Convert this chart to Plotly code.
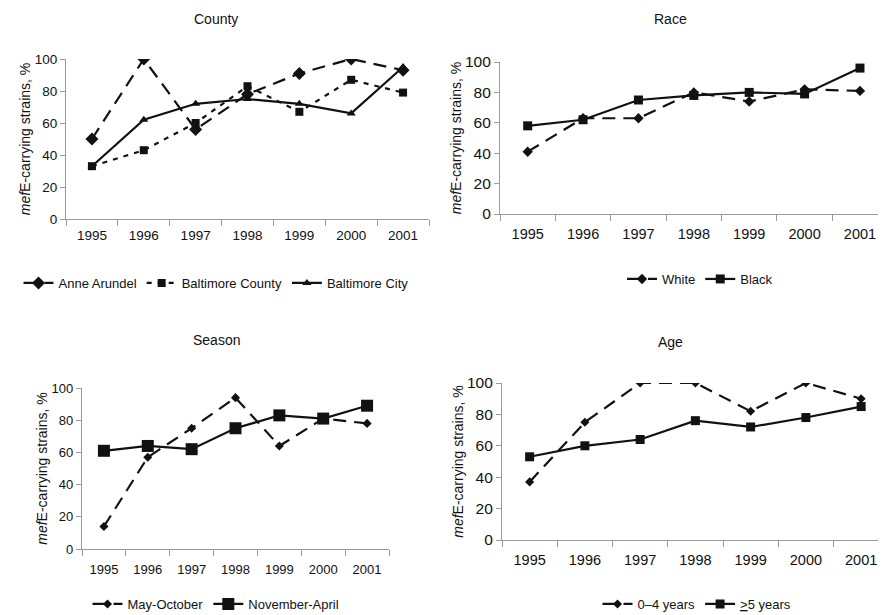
import plotly.graph_objects as go

years = [1995, 1996, 1997, 1998, 1999, 2000, 2001]

county_anne = [50, 100, 56, 78, 91, 100, 93]
county_balt_county = [33, 43, 60, 83, 67, 87, 79]
county_balt_city = [33, 62, 72, 75, 72, 66, 95]

race_white = [41, 63, 63, 80, 74, 82, 81]
race_black = [58, 62, 75, 78, 80, 79, 96]

season_may_oct = [14, 57, 75, 94, 64, 81, 78]
season_nov_apr = [61, 64, 62, 75, 83, 81, 89]

age_0_4 = [37, 75, 100, 100, 82, 100, 90]
age_5plus = [53, 60, 64, 76, 72, 78, 85]

OFF = 8  # page body margin
W, H = 886 - OFF, 615 - OFF
FONT = "Liberation Sans, Arial, sans-serif"
BLACK = "#111111"
AX = "#9a9a9a"

fig = go.Figure()

def add(x, y, name, xa, ya, legend, dash, symbol, msize):
    fig.add_trace(go.Scatter(
        x=x, y=y, name=name, xaxis=xa, yaxis=ya, legend=legend,
        mode="lines+markers",
        line=dict(color=BLACK, width=2.2, dash=dash),
        marker=dict(symbol=symbol, size=msize, color=BLACK),
    ))

add(years, county_anne, "Anne Arundel", "x", "y", "legend", "13px,8px", "diamond", 10)
add(years, county_balt_county, "Baltimore County", "x", "y", "legend", "5px,6px", "square", 8)
add(years, county_balt_city, "Baltimore City", "x", "y", "legend", "solid", "triangle-up", 8)

add(years, race_white, "White", "x2", "y2", "legend2", "13px,8px", "diamond", 8)
add(years, race_black, "Black", "x2", "y2", "legend2", "solid", "square", 9)

add(years, season_may_oct, "May-October", "x3", "y3", "legend3", "13px,8px", "diamond", 7)
add(years, season_nov_apr, "November-April", "x3", "y3", "legend3", "solid", "square", 12)

add(years, age_0_4, "0–4 years", "x4", "y4", "legend4", "13px,8px", "diamond", 7)
add(years, age_5plus, "<u>></u>5 years", "x4", "y4", "legend4", "solid", "square", 9)

def px_x(p):
    return min(1.0, max(0.0, (p - OFF) / W))

def px_y(p):
    return min(1.0, max(0.0, 1 - (p - OFF) / H))

def xaxis(left, right, r1, tsize, standoff=0):
    return dict(
        domain=[px_x(left), px_x(right)],
        range=[1994.5, r1],
        tickvals=years, ticktext=[str(y) for y in years],
        ticks="", showgrid=False, zeroline=False,
        showline=True, linecolor=AX, linewidth=1.2,
        tickfont=dict(family=FONT, size=tsize, color=BLACK),
        ticklabelstandoff=standoff, ticklabeloverflow="allow",
        minor=dict(tick0=1994.5, dtick=1, ticks="outside", ticklen=6, tickcolor=AX, showgrid=False),
        automargin=False, fixedrange=True,
    )

def yaxis(bottom, top, anchor, tsize):
    return dict(
        domain=[px_y(bottom), px_y(top)],
        range=[0, 100], tickvals=[0, 20, 40, 60, 80, 100],
        ticks="outside", ticklen=5, tickcolor=AX,
        showgrid=False, zeroline=False,
        showline=True, linecolor=AX, linewidth=1.2,
        tickfont=dict(family=FONT, size=tsize, color=BLACK),
        title=dict(text="<i>mef</i>E-carrying strains, %", font=dict(family=FONT, size=14, color=BLACK), standoff=0),
        anchor=anchor, automargin=False, fixedrange=True,
    )

fig.update_layout(
    xaxis=dict(xaxis(66, 429, 2001.5, 13.5, 4), anchor="y"),
    yaxis=yaxis(219, 59, "x", 13.5),
    xaxis2=dict(xaxis(500, 886, 2001.47, 14.5, 6), anchor="y2"),
    yaxis2=yaxis(214, 62, "x2", 15.5),
    xaxis3=dict(xaxis(82, 389, 2001.5, 13, 8), anchor="y3"),
    yaxis3=yaxis(549, 388, "x3", 13),
    xaxis4=dict(xaxis(502, 886, 2001.45, 14.5, 6), anchor="y4"),
    yaxis4=yaxis(540, 383, "x4", 15.5),
)

def legend(cx, cy):
    return dict(
        x=px_x(cx), y=px_y(cy), xanchor="center", yanchor="middle",
        orientation="h", bgcolor="rgba(0,0,0,0)",
        font=dict(family=FONT, size=13, color=BLACK),
        itemwidth=30, tracegroupgap=0,
    )

fig.update_layout(
    legend=legend(216, 283),
    legend2=legend(700, 279),
    legend3=legend(216, 604),
    legend4=legend(697, 604),
)

titles = [("County", 216, 19), ("Race", 670, 19), ("Season", 216, 340), ("Age", 670, 342)]
for t, cx, cy in titles:
    fig.add_annotation(text=t, x=px_x(cx), y=px_y(cy), xref="paper", yref="paper",
                       showarrow=False, xanchor="center", yanchor="middle",
                       font=dict(family=FONT, size=14, color=BLACK))

fig.update_layout(
    width=W, height=H,
    margin=dict(l=0, r=0, t=0, b=0, autoexpand=False),
    paper_bgcolor="white", plot_bgcolor="white",
    showlegend=True,
)

fig.write_html("out.html", config={"displayModeBar": False})
